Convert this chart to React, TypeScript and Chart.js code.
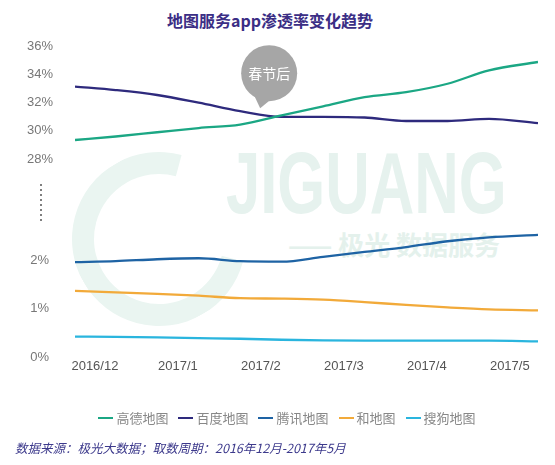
import React, { useEffect, useRef } from 'react';
import { Chart, registerables } from 'chart.js';
Chart.register(...registerables);

const monthLabels = ['2016/12', '2017/1', '2017/2', '2017/3', '2017/4', '2017/5'];
const samplePositions = [-0.24, 0.25, 0.75, 1.25, 1.75, 2.25, 2.75, 3.25, 3.75, 4.25, 4.75, 5.34];
const gaode = [29.35, 29.6, 29.9, 30.2, 30.45, 31.1, 31.75, 32.4, 32.75, 33.35, 34.3, 34.9];
const baidu = [33.15, 32.9, 32.55, 32.0, 31.4, 31.0, 31.0, 30.95, 30.7, 30.7, 30.85, 30.55];
const tencent = [1.96, 1.98, 2.02, 2.04, 1.98, 1.97, 2.07, 2.17, 2.27, 2.39, 2.47, 2.52];
const hemap = [1.37, 1.34, 1.31, 1.27, 1.22, 1.21, 1.19, 1.14, 1.08, 1.03, 0.99, 0.97];
const sogou = [0.43, 0.425, 0.415, 0.4, 0.385, 0.365, 0.35, 0.345, 0.345, 0.345, 0.345, 0.33];
const upperTicks = [28, 30, 32, 34, 36];
const lowerTicks = [0, 1, 2];
const seriesNames = ['高德地图', '百度地图', '腾讯地图', '和地图', '搜狗地图'];
const seriesColors = ['#1ba784', '#2e2a7d', '#1e63a4', '#f2aa3a', '#2ab5de'];
const seriesValues = [gaode, baidu, tencent, hemap, sogou];
const seriesAxis = ['yTop', 'yTop', 'yBottom', 'yBottom', 'yBottom'];
const bubbleText = '春节后';
const bubbleAt = [2.1, 34.1];
const titleText = '地图服务app渗透率变化趋势';
const sourceText = '数据来源：极光大数据；取数周期：2016年12月-2017年5月';

const annotPlugin = {
  id: 'annot',
  afterDatasetsDraw(chart: any) {
    const { ctx } = chart;
    const xs = chart.scales.x;
    const yt = chart.scales.yTop;
    const yb = chart.scales.yBottom;
    ctx.save();
    // axis break dots
    ctx.fillStyle = '#555';
    const bx = 41;
    for (let y = yt.bottom - 15; y <= yb.top + 20; y += 5) {
      ctx.beginPath();
      ctx.arc(bx, y, 1, 0, Math.PI * 2);
      ctx.fill();
    }
    // bubble
    const cx = xs.getPixelForValue(bubbleAt[0]);
    const cy = yt.getPixelForValue(bubbleAt[1]);
    const r = 28;
    ctx.fillStyle = '#a6a6a6';
    ctx.beginPath();
    ctx.arc(cx, cy, r, 0, Math.PI * 2);
    ctx.fill();
    ctx.beginPath();
    ctx.moveTo(cx - 16, cy + 20);
    ctx.lineTo(cx + 2, cy + 26);
    ctx.lineTo(cx - 9, cy + 35);
    ctx.closePath();
    ctx.fill();
    ctx.fillStyle = '#ffffff';
    ctx.font = '14px "Noto Sans CJK SC"';
    ctx.textAlign = 'center';
    ctx.textBaseline = 'middle';
    ctx.fillText(bubbleText, cx, cy);
    ctx.restore();
  },
};

export default function App() {
  const ref = useRef<HTMLCanvasElement>(null);
  useEffect(() => {
    if (!ref.current) return;
    const datasets = seriesNames.map((name, i) => ({
      label: name,
      data: samplePositions.map((x, j) => ({ x, y: seriesValues[i][j] })),
      borderColor: seriesColors[i],
      backgroundColor: seriesColors[i],
      borderWidth: 2.3,
      pointRadius: 0,
      tension: 0.4,
      cubicInterpolationMode: 'monotone' as const,
      yAxisID: seriesAxis[i],
    }));
    const chart = new Chart(ref.current, {
      type: 'line',
      data: { datasets },
      plugins: [annotPlugin],
      options: {
        animation: false,
        responsive: false,
        layout: { padding: { top: 46.5, bottom: 87.5, left: 0, right: 17 } },
        plugins: { legend: { display: false }, tooltip: { enabled: false } },
        scales: {
          x: {
            type: 'linear',
            min: -0.24,
            max: 5.34,
            grid: { display: false, drawTicks: false },
            border: { display: false },
            afterBuildTicks: (axis: any) => {
              axis.ticks = monthLabels.map((_, i) => ({ value: i }));
            },
            afterFit: (axis: any) => {
              axis.height = 20;
            },
            ticks: {
              padding: 1,
              color: '#555',
              font: { size: 13, family: '"Liberation Sans", Arial' },
              maxRotation: 0,
              autoSkip: false,
              callback: (v: any) => monthLabels[v] ?? '',
            },
          },
          yBottom: {
            type: 'linear',
            position: 'left',
            stack: 'y',
            stackWeight: 157.5,
            min: 0,
            max: 3.24,
            grid: { display: false, drawTicks: false },
            border: { display: false },
            afterBuildTicks: (axis: any) => {
              axis.ticks = lowerTicks.map((v) => ({ value: v }));
            },
            afterFit: (axis: any) => {
              axis.width = 75;
            },
            ticks: {
              padding: 26,
              color: '#777',
              font: { size: 13, family: '"Liberation Sans", Arial' },
              callback: (v: any) => v + '%',
            },
          },
          yTop: {
            type: 'linear',
            position: 'left',
            stack: 'y',
            stackWeight: 153.3,
            min: 25.09,
            max: 36,
            grid: { display: false, drawTicks: false },
            border: { display: false },
            afterBuildTicks: (axis: any) => {
              axis.ticks = upperTicks.map((v) => ({ value: v }));
            },
            afterFit: (axis: any) => {
              axis.width = 75;
            },
            ticks: {
              padding: 22,
              color: '#777',
              font: { size: 13, family: '"Liberation Sans", Arial' },
              callback: (v: any) => v + '%',
            },
          },
        },
      },
    } as any);
    return () => chart.destroy();
  }, []);

  return (
    <div style={{ position: 'fixed', left: 0, top: 0, width: 555, height: 465, background: '#fff', overflow: 'hidden' }}>
      {/* watermark */}
      <div style={{ position: 'absolute', left: 72, top: 152, width: 130, height: 130, borderRadius: '50%', border: '22px solid #eaf5f1', borderRightColor: 'transparent', transform: 'rotate(-30deg)' }} />
      <div style={{ position: 'absolute', left: 226, top: 128, fontFamily: '"Liberation Sans", Arial', fontWeight: 700, fontSize: 88, color: '#e6f2ee', transform: 'scaleX(0.7)', transformOrigin: 'left top', lineHeight: '110px', whiteSpace: 'nowrap' }}>JIGUANG</div>
      <div style={{ position: 'absolute', left: 288, top: 229, fontFamily: '"Noto Sans CJK SC"', fontWeight: 700, fontSize: 26, color: '#e4f1ec', lineHeight: '30px', whiteSpace: 'nowrap' }}>—— 极光 数据服务</div>
      <div style={{ position: 'absolute', left: 0, top: 9, width: 540, textAlign: 'center', fontFamily: '"Noto Sans CJK SC"', fontWeight: 700, fontSize: 16, lineHeight: '22px', color: '#3b2e85' }}>{titleText}</div>
      <canvas ref={ref} width={555} height={465} style={{ position: 'absolute', left: 0, top: 0, width: 555, height: 465 }} />
      <div style={{ position: 'absolute', left: 0, top: 409, width: 574, display: 'flex', justifyContent: 'center', alignItems: 'center', fontFamily: '"Noto Sans CJK SC"', fontSize: 13, color: '#888', lineHeight: '18px' }}>
        {seriesNames.map((n, i) => (
          <div key={n} style={{ display: 'flex', alignItems: 'center', marginRight: i < seriesNames.length - 1 ? 10 : 0 }}>
            <span style={{ display: 'inline-block', width: 15, height: 2, background: seriesColors[i], marginRight: 3 }} />
            <span>{n}</span>
          </div>
        ))}
      </div>
      <div style={{ position: 'absolute', left: 15, top: 439, fontFamily: '"Noto Sans CJK SC"', fontStyle: 'italic', fontSize: 12.5, color: '#3d3a8c', lineHeight: '18px', whiteSpace: 'nowrap' }}>{sourceText}</div>
    </div>
  );
}
